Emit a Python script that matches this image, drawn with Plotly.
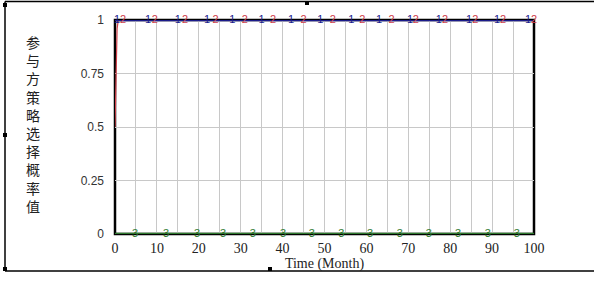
import plotly.graph_objects as go

# ---- data ----
time_1 = [0, 100]
prob_1 = [1, 1]
time_2 = [0, 0.25, 0.5, 0.75, 1, 100]
prob_2 = [0.5, 0.78, 0.96, 0.995, 1, 1]
time_3 = [0, 100]
prob_3 = [0, 0]

label_t1 = [0.5, 7.9, 15, 22, 28, 35, 42, 49, 56.4, 63, 70.4, 77.3, 84.5, 91.2, 98.6]
label_t2 = [1.9, 9.5, 16.7, 24, 31, 37.7, 45, 52, 59, 66, 71.8, 78.8, 86, 92.6, 100]
label_t3 = [4.8, 12.2, 19.6, 25.8, 32.9, 40.1, 47, 54, 60.9, 68, 74.9, 81.9, 89, 95.9]

x_ticks = [0, 10, 20, 30, 40, 50, 60, 70, 80, 90, 100]
y_ticks = [0, 0.25, 0.5, 0.75, 1]
y_tick_text = ["0", "0.25", "0.5", "0.75", "1"]
y_title = "参与方策略选择概率值"
x_title = "Time (Month)"

C1 = "#1c1c8c"
C2 = "#d0404a"
C3 = "#2f7a2f"

W, H = 594, 289
L, R, T, B = 115, 534, 20, 234

def px(x):
    return (x - L) / (R - L)

def py(y):
    return (B - y) / (B - T)

fig = go.Figure()
fig.add_trace(go.Scatter(x=time_3, y=prob_3, mode="lines", line=dict(color=C3, width=2.5),
                         cliponaxis=False, showlegend=False, hoverinfo="skip"))
fig.add_trace(go.Scatter(x=time_2, y=prob_2, mode="lines", line=dict(color=C2, width=1.2),
                         cliponaxis=False, showlegend=False, hoverinfo="skip"))
fig.add_trace(go.Scatter(x=time_1, y=prob_1, mode="lines", line=dict(color=C1, width=2.5),
                         cliponaxis=False, showlegend=False, hoverinfo="skip"))

lbl_font = dict(family="Liberation Sans, Arial", size=11)
fig.add_trace(go.Scatter(x=label_t1, y=[prob_1[0]] * len(label_t1), mode="text",
                         text=["1"] * len(label_t1), textfont=dict(color=C1, **lbl_font),
                         cliponaxis=False, showlegend=False, hoverinfo="skip"))
fig.add_trace(go.Scatter(x=label_t2, y=[prob_2[-1]] * len(label_t2), mode="text",
                         text=["2"] * len(label_t2), textfont=dict(color=C2, **lbl_font),
                         cliponaxis=False, showlegend=False, hoverinfo="skip"))
fig.add_trace(go.Scatter(x=label_t3, y=[prob_3[0]] * len(label_t3), mode="text",
                         text=["3"] * len(label_t3), textfont=dict(color=C3, **lbl_font),
                         cliponaxis=False, showlegend=False, hoverinfo="skip"))

serif = "Liberation Serif, Times New Roman, serif"

fig.update_xaxes(range=[0, 100], tickvals=x_ticks, ticks="", showline=False,
                 showgrid=True, gridcolor="#c8c8c8", gridwidth=1, zeroline=False,
                 minor=dict(dtick=5, showgrid=True, gridcolor="#c8c8c8", gridwidth=1),
                 tickfont=dict(family=serif, size=14, color="#222"), ticklabelstandoff=4,
                 title=dict(text=x_title, font=dict(family=serif, size=14, color="#222"), standoff=2))
fig.update_yaxes(range=[0, 1], tickvals=y_ticks, ticktext=y_tick_text, ticks="",
                 showline=False, showgrid=True, gridcolor="#c8c8c8", gridwidth=1, zeroline=False,
                 tickfont=dict(family="Liberation Sans, Arial", size=12, color="#333"),
                 ticklabelstandoff=10)

shapes = []
# plot frame
shapes.append(dict(type="rect", xref="paper", yref="paper", x0=0, x1=1, y0=0, y1=1,
                   line=dict(color="black", width=2.5), layer="below"))
# outer frame lines
shapes.append(dict(type="line", xref="paper", yref="paper", x0=px(5), x1=px(600), y0=py(1.5), y1=py(1.5),
                   line=dict(color="black", width=1.5)))
shapes.append(dict(type="line", xref="paper", yref="paper", x0=px(5), x1=px(600), y0=py(271), y1=py(271),
                   line=dict(color="black", width=1.5)))
shapes.append(dict(type="line", xref="paper", yref="paper", x0=px(5), x1=px(5), y0=py(1.5), y1=py(271),
                   line=dict(color="black", width=1.5)))
# handles
for hx, hy in [(5, 5), (5, 135), (5, 269), (307, 3), (270, 269)]:
    shapes.append(dict(type="rect", xref="paper", yref="paper", x0=px(hx - 2), x1=px(hx + 2),
                       y0=py(hy + 2), y1=py(hy - 2), fillcolor="black", line=dict(width=0)))

annotations = [dict(text="<br>".join(list(y_title)), xref="paper", yref="paper",
                    x=px(33), y=py(124), xanchor="center", yanchor="middle", showarrow=False,
                    font=dict(family="Noto Sans CJK SC", size=14, color="#222"))]

fig.update_layout(width=W, height=H, margin=dict(l=L, r=W - R, t=T, b=H - B),
                  paper_bgcolor="white", plot_bgcolor="white",
                  shapes=shapes, annotations=annotations, showlegend=False)

fig.write_html("out.html")
